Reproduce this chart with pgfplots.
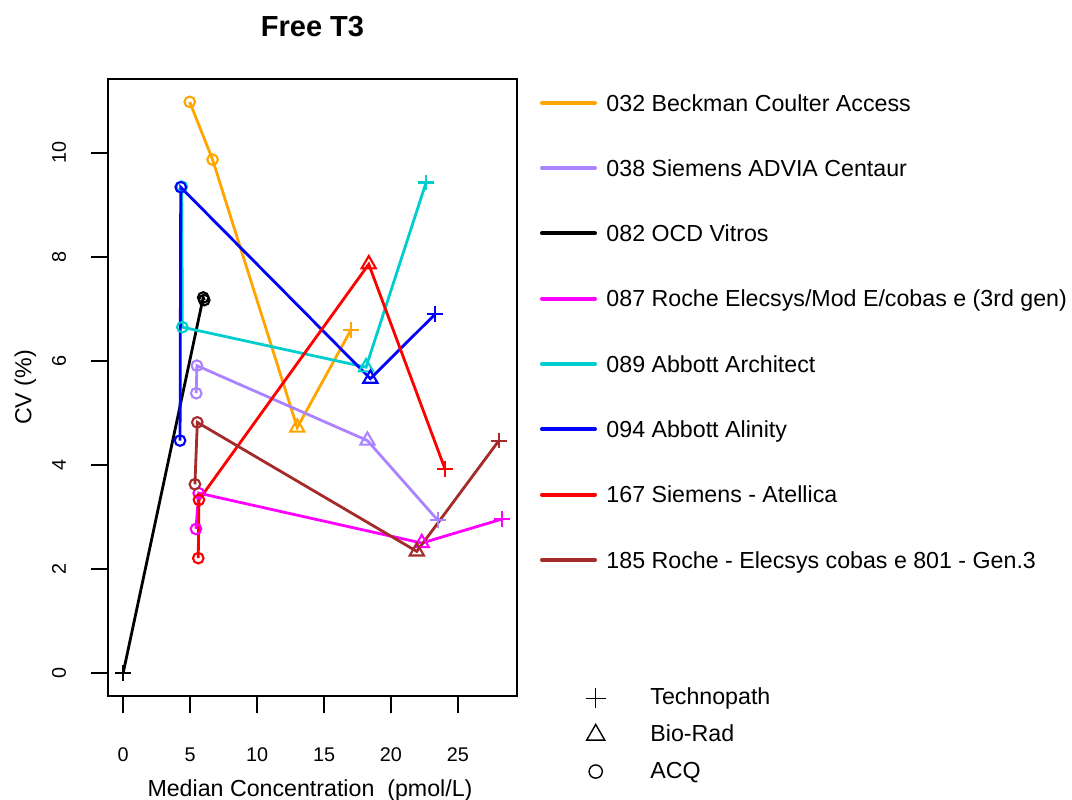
\documentclass[border=0pt]{standalone}
\usepackage{fontspec}
\setmainfont{Liberation Sans}
\usepackage{pgfplots}
\pgfplotsset{compat=1.18}
\definecolor{c032}{RGB}{255,165,0}
\definecolor{c038}{RGB}{171,130,255}
\definecolor{c082}{RGB}{0,0,0}
\definecolor{c087}{RGB}{255,0,255}
\definecolor{c089}{RGB}{0,205,205}
\definecolor{c094}{RGB}{0,0,255}
\definecolor{c167}{RGB}{255,0,0}
\definecolor{c185}{RGB}{165,42,42}
\newcommand\legfont{\fontsize{11.6}{14}\selectfont}
\newcommand\tickfont{\fontsize{9.9}{11}\selectfont}
\newcommand\titlefont{\fontsize{14.5}{17}\selectfont\bfseries}
\pgfplotsset{
  mk/.style={forget plot, color=#1, line width=1.4pt,
    scatter, scatter src=explicit symbolic,
    scatter/classes={
      T={mark=+, mark size=3.9pt, draw=#1},
      B={mark=triangle, mark size=4.1pt, draw=#1},
      A={mark=o, mark size=2.65pt, draw=#1}},
    mark options={solid, fill=none, line width=1.05pt}},
}
\begin{document}
\begin{tikzpicture}
\useasboundingbox (0pt,0pt) rectangle (536pt,399.5pt);
\begin{axis}[
  at={(54pt,51.5pt)}, anchor=south west, scale only axis,
  width=204.5pt, height=308.5pt,
  xmin=-1.13, xmax=29.41, ymin=-0.44, ymax=11.42,
  axis line style={line width=0.75pt},
  tick align=outside, major tick length=8.65pt,
  tick style={line width=0.75pt, black},
  xtick={0,5,10,15,20,25}, ytick={0,2,4,6,8,10},
  xtick pos=left, ytick pos=left, minor tick num=0,
  /pgf/number format/assume math mode=true,
  ticklabel style={font=\tickfont},
  xticklabel style={anchor=base}, xticklabel shift=24.3pt,
  yticklabel style={rotate=90, anchor=base}, yticklabel shift=12.4pt,
  title={Free T3},
  title style={font=\titlefont, at={(axis description cs:0.5,1.0492)}, anchor=base, yshift=0pt},
  xlabel={Median Concentration\ \ (pmol/L)},
  xlabel style={font=\legfont, at={(axis description cs:0.4939,-0.1621)}, anchor=base},
  ylabel={CV (\%)},
  ylabel style={font=\legfont, at={(axis description cs:-0.1873,0.5)}, anchor=base},
  legend style={at={(axis description cs:1.0562,0.9815)}, anchor=north west,
    draw=none, fill=none, inner sep=0pt, outer sep=0pt, row sep=20.35pt,
    font=\legfont, nodes={inner sep=0pt, text height=10.3pt, text depth=2pt},
    /tikz/every odd column/.append style={column sep=4.75pt}},
  legend cell align=left,
  legend image code/.code={\draw[#1, line width=2pt, line cap=round] (1pt,0pt) -- (27.5pt,0pt);},
]
\addplot[mk=c032] table[meta=m] {
x y m
4.97 10.98 A
6.68 9.87 A
13.0 4.72 B
17.02 6.60 T
};
\addplot[mk=c038] table[meta=m] {
x y m
5.46 5.38 A
5.51 5.91 A
18.24 4.47 B
23.49 2.94 T
};
\addplot[mk=c082] table[meta=m] {
x y m
0 0 T
5.98 7.22 A
6.06 7.17 A
};
\addplot[mk=c087] table[meta=m] {
x y m
5.44 2.77 A
5.64 3.46 A
22.3 2.50 B
28.28 2.96 T
};
\addplot[mk=c089] table[meta=m] {
x y m
4.38 9.35 A
4.42 6.65 A
18.14 5.88 B
22.62 9.43 T
};
\addplot[mk=c094] table[meta=m] {
x y m
4.25 4.47 A
4.30 9.34 A
18.46 5.66 B
23.30 6.90 T
};
\addplot[mk=c167] table[meta=m] {
x y m
5.61 2.21 A
5.66 3.33 A
18.34 7.86 B
24.04 3.92 T
};
\addplot[mk=c185] table[meta=m] {
x y m
5.36 3.63 A
5.54 4.82 A
21.93 2.34 B
28.06 4.47 T
};
\addlegendimage{c032}\addlegendentry{032 Beckman Coulter Access}
\addlegendimage{c038}\addlegendentry{038 Siemens ADVIA Centaur}
\addlegendimage{c082}\addlegendentry{082 OCD Vitros}
\addlegendimage{c087}\addlegendentry{087 Roche Elecsys/Mod E/cobas e (3rd gen)}
\addlegendimage{c089}\addlegendentry{089 Abbott Architect}
\addlegendimage{c094}\addlegendentry{094 Abbott Alinity}
\addlegendimage{c167}\addlegendentry{167 Siemens - Atellica}
\addlegendimage{c185}\addlegendentry{185 Roche - Elecsys cobas e 801 - Gen.3}
\end{axis}
\begin{axis}[
  at={(54pt,51.5pt)}, anchor=south west, scale only axis,
  width=204.5pt, height=308.5pt, hide axis,
  xmin=0, xmax=1, ymin=0, ymax=1,
  legend style={at={(axis description cs:1.1565,0.0170)}, anchor=north west,
    draw=none, fill=none, inner sep=0pt, outer sep=0pt, row sep=5.63pt,
    font=\legfont, nodes={inner sep=0pt, text height=9.7pt, text depth=3pt},
    /tikz/every odd column/.append style={column sep=20pt}},
  legend cell align=left,
  legend image code/.code={\path (-7pt,-5pt) (7pt,5pt); \draw[#1] plot coordinates {(0pt,0pt)};},
]
\addlegendimage{only marks, mark=+, mark size=5pt, black, line width=0.7pt}
\addlegendentry{Technopath}
\addlegendimage{only marks, mark=triangle, mark size=5.2pt, black, line width=0.7pt}
\addlegendentry{Bio-Rad}
\addlegendimage{only marks, mark=o, mark size=3.3pt, black, line width=0.7pt}
\addlegendentry{ACQ}
\end{axis}
\end{tikzpicture}
\end{document}
